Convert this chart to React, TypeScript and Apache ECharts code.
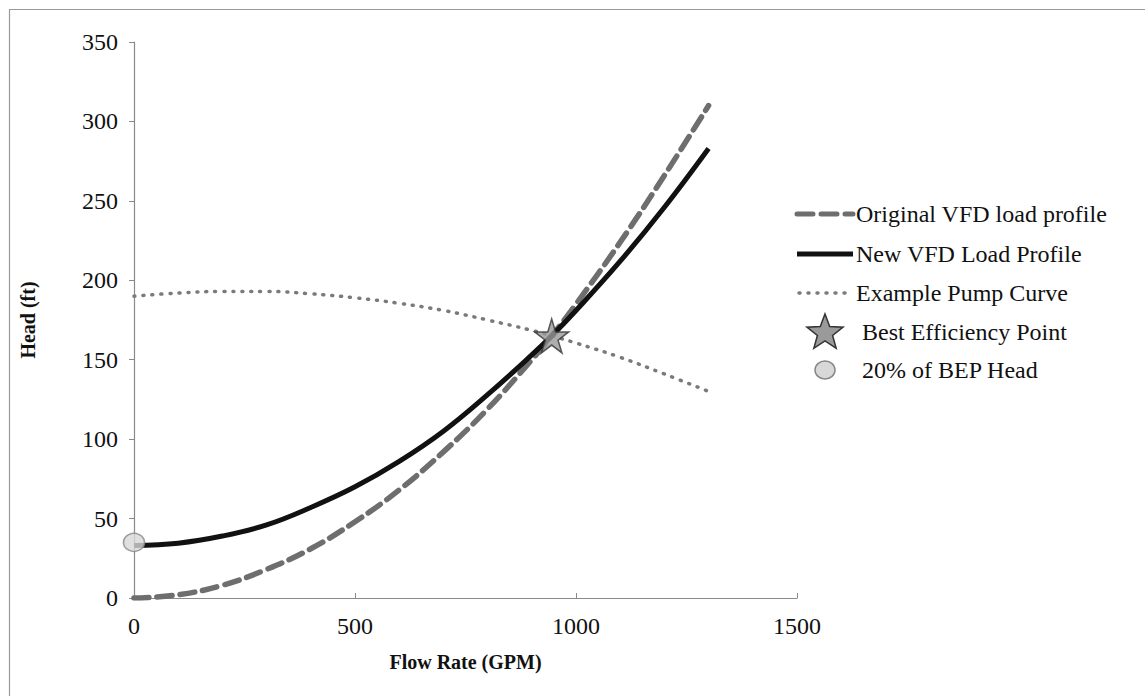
import React, { useEffect, useRef } from "react";
import * as echarts from "echarts";

const flows = [0, 100, 200, 300, 400, 500, 600, 700, 800, 900, 945, 1000, 1100, 1200, 1300];
const originalHead = [0, 2, 8, 18, 31, 48, 68, 92, 119, 150, 165, 185, 224, 266, 310];
const newHead = [33, 34.5, 39, 46, 57, 70, 86, 105, 128, 153, 165, 181, 212, 246, 283];
const pumpHead = [190, 192, 193, 193, 191.5, 189, 185.5, 181, 175, 168.5, 165, 160.5, 151.5, 141, 130];
const bepPoint = [945, 165];
const lowPoint = [0, 35];
const legendNames = [
  "Original VFD load profile",
  "New VFD Load Profile",
  "Example Pump Curve",
  "Best Efficiency Point",
  "20% of BEP Head",
];

const STAR =
  "path://M50,0 L61,35 L98,35 L68,57 L79,91 L50,70 L21,91 L32,57 L2,35 L39,35 Z";

const FONT = "Liberation Serif";
const DASH_COLOR = "#6e6e6e";
const DOT_COLOR = "#7a7a7a";

function starPoints(cx: number, cy: number, r: number) {
  const pts: number[][] = [];
  for (let i = 0; i < 10; i++) {
    const rr = i % 2 === 0 ? r : r * 0.42;
    const a = -Math.PI / 2 + (i * Math.PI) / 5;
    pts.push([cx + rr * Math.cos(a), cy + rr * Math.sin(a)]);
  }
  return pts;
}

export default function App() {
  const ref = useRef<HTMLDivElement>(null);
  useEffect(() => {
    document.body.style.margin = "0";
    const chart = echarts.init(ref.current!, null, { renderer: "svg" });
    const pair = (ys: number[]) => flows.map((f, i) => [f, ys[i]]);

    const rowY = [214, 254, 293, 332, 370];
    const iconL = 797;
    const iconR = 853;
    const iconC = (iconL + iconR) / 2;
    const legendGraphics: any[] = [
      {
        type: "line",
        shape: { x1: iconL, y1: rowY[0], x2: iconR, y2: rowY[0] },
        style: { stroke: DASH_COLOR, lineWidth: 5, lineDash: [16, 8], lineCap: "round" },
      },
      {
        type: "line",
        shape: { x1: iconL, y1: rowY[1], x2: iconR, y2: rowY[1] },
        style: { stroke: "#111", lineWidth: 5 },
      },
      {
        type: "line",
        shape: { x1: iconL + 2, y1: rowY[2], x2: iconR, y2: rowY[2] },
        style: { stroke: DOT_COLOR, lineWidth: 3.5, lineDash: [1, 8], lineCap: "round" },
      },
      {
        type: "polygon",
        shape: { points: starPoints(iconC, rowY[3] + 1, 19) },
        style: { fill: "#9a9a9a", stroke: "#333", lineWidth: 1.5 },
      },
      {
        type: "ellipse",
        shape: { cx: iconC, cy: rowY[4], rx: 10, ry: 9 },
        style: { fill: "#d8d8d8", stroke: "#888", lineWidth: 1.5 },
      },
      ...legendNames.map((n, i) => ({
        type: "text",
        x: i < 3 ? 856 : 862,
        y: rowY[i],
        style: {
          text: n,
          fontFamily: FONT,
          fontSize: 24,
          fill: "#111",
          verticalAlign: "middle",
          align: "left",
        },
      })),
    ];

    chart.setOption({
      animation: false,
      backgroundColor: "#fff",
      textStyle: { fontFamily: FONT },
      graphic: [
        {
          type: "rect",
          shape: { x: 9.5, y: 9.5, width: 1300, height: 900 },
          style: { fill: "none", stroke: "#9a9a9a", lineWidth: 1.2 },
          silent: true,
        },
        ...legendGraphics,
      ],
      grid: { left: 134, right: 348, top: 42, bottom: 98 },
      xAxis: {
        type: "value",
        min: 0,
        max: 1500,
        interval: 500,
        name: "Flow Rate (GPM)",
        nameLocation: "middle",
        nameGap: 54,
        nameTextStyle: { fontFamily: FONT, fontWeight: "bold", fontSize: 20, color: "#111" },
        axisLine: { show: true, lineStyle: { color: "#8a8a8a", width: 1.2 } },
        axisTick: { show: true, inside: true, length: 5, lineStyle: { color: "#8a8a8a" } },
        axisLabel: {
          fontFamily: FONT,
          fontSize: 24,
          color: "#111",
          margin: 16,
          formatter: (v: number) => String(v),
        },
        splitLine: { show: false },
      },
      yAxis: {
        type: "value",
        min: 0,
        max: 350,
        interval: 50,
        name: "Head (ft)",
        nameLocation: "middle",
        nameGap: 96,
        nameRotate: 90,
        nameTextStyle: { fontFamily: FONT, fontWeight: "bold", fontSize: 20, color: "#111" },
        axisLine: { show: true, lineStyle: { color: "#8a8a8a", width: 1.2 } },
        axisTick: { show: true, length: 5, lineStyle: { color: "#8a8a8a" } },
        axisLabel: { fontFamily: FONT, fontSize: 24, color: "#111", margin: 16 },
        splitLine: { show: false },
      },
      series: [
        {
          name: legendNames[0],
          type: "line",
          data: pair(originalHead),
          smooth: 0.4,
          symbol: "none",
          lineStyle: { color: DASH_COLOR, width: 5.5, type: [15, 8], cap: "round" },
          z: 3,
        },
        {
          name: legendNames[1],
          type: "line",
          data: pair(newHead),
          smooth: 0.4,
          symbol: "none",
          lineStyle: { color: "#111", width: 5 },
          z: 4,
        },
        {
          name: legendNames[2],
          type: "line",
          data: pair(pumpHead),
          smooth: 0.4,
          symbol: "none",
          lineStyle: { color: DOT_COLOR, width: 3.5, type: [1, 8], cap: "round" },
          z: 2,
        },
        {
          name: legendNames[3],
          type: "scatter",
          data: [bepPoint],
          symbol: STAR,
          symbolSize: 34,
          itemStyle: { color: "#9a9a9a", borderColor: "#333", borderWidth: 1.5 },
          z: 6,
        },
        {
          name: legendNames[4],
          type: "scatter",
          data: [lowPoint],
          symbol: "circle",
          symbolSize: [21, 18],
          itemStyle: { color: "#d8d8d8", borderColor: "#888", borderWidth: 1.5 },
          z: 6,
        },
      ],
    });
    return () => chart.dispose();
  }, []);
  return <div ref={ref} style={{ width: 1145, height: 696 }} />;
}
